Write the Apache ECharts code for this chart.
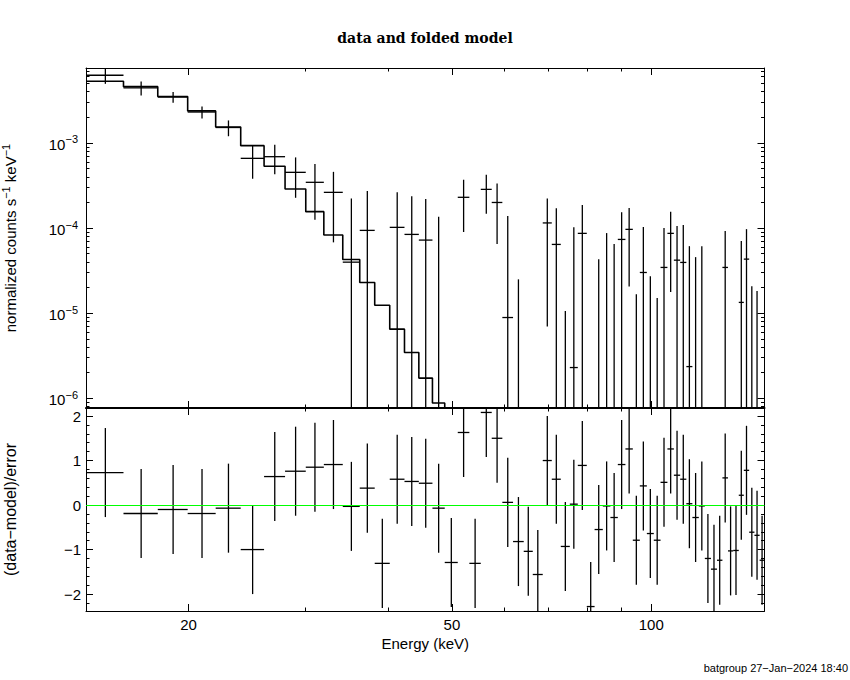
<!DOCTYPE html>
<html>
<head>
<meta charset="utf-8">
<script src="https://cdn.jsdelivr.net/npm/echarts@6/dist/echarts.min.js"></script>
<style>
html, body { margin: 0; background: #fff; }
#main { width: 850px; height: 680px; }
</style>
</head>
<body>
<div id="main"></div>
<script>
// energy bin edges (keV), 59 bins
var edges = [14.0, 15.95, 17.97, 19.94, 21.98, 23.98, 26.01, 27.98, 30.07, 32.02,
  34.2, 36.28, 38.22, 40.27, 42.39, 44.56, 46.72, 48.76, 51.02, 53.12,
  55.27, 57.42, 59.58, 61.84, 64.18, 66.23, 68.57, 70.76, 73.01, 75.34,
  77.46, 79.92, 82.12, 84.5, 86.77, 89.03, 91.42, 93.8, 96.11, 98.49,
  100.9, 103.3, 105.8, 108.2, 110.6, 113.0, 115.4, 118.0, 120.5, 123.1,
  125.7, 128.1, 130.6, 133.0, 135.6, 138.0, 140.6, 143.2, 145.8, 148.3];

// normalized counts s^-1 keV^-1 and 1-sigma errors
var rate = [6.25e-3, 4.43e-3, 3.46e-3, 2.31e-3, 1.52e-3, 6.6e-4, 6.9e-4, 4.52e-4, 3.45e-4, 2.63e-4,
  3.98e-5, 9.4e-5, -2.1e-4, 1.02e-4, 8.43e-5, 7.23e-5, -9e-6, -1.87e-4, 2.30e-4, -1.83e-4,
  2.85e-4, 2.0e-4, 8.9e-6, -1.11e-4, -1.35e-4, -1.79e-4, 1.15e-4, 6.43e-5, -9.94e-5, 2.3e-6,
  8.67e-5, -2.28e-4, -5.3e-5, -1.6e-6, -2.5e-5, 7.36e-5, 9.66e-5, -6.33e-5, 3.01e-5, -4.88e-5,
  -5.69e-5, 3.45e-5, 8.67e-5, 4.2e-5, 3.95e-5, 2.36e-6, -1.74e-5, -1.6e-6, -7.2e-5, -8.64e-5,
  -7.44e-5, 3.45e-5, -5.97e-5, -5.81e-5, 1.34e-5, 4.32e-5, -3.22e-5, -3.88e-5, -6.82e-5];
var rateErr = [1.3e-3, 8.3e-4, 5.0e-4, 3.7e-4, 3.2e-4, 2.8e-4, 2.6e-4, 2.25e-4, 2.2e-4, 1.95e-4,
  1.83e-4, 1.78e-4, 1.7e-4, 1.61e-4, 1.53e-4, 1.47e-4, 1.45e-4, 1.45e-4, 1.4e-4, 1.4e-4,
  1.38e-4, 1.35e-4, 1.3e-4, 1.36e-4, 1.3e-4, 1.15e-4, 1.08e-4, 1.07e-4, 1.1e-4, 1.0e-4,
  1.0e-4, 1.0e-4, 9.6e-5, 8.9e-5, 9.0e-5, 8.0e-5, 7.6e-5, 8.0e-5, 7.3e-5, 7.6e-5,
  7.2e-5, 6.55e-5, 6.9e-5, 6.4e-5, 6.9e-5, 5.9e-5, 6.3e-5, 6.3e-5, 6.0e-5, 6.0e-5,
  6.0e-5, 5.8e-5, 5.8e-5, 5.7e-5, 5.7e-5, 5.4e-5, 5.3e-5, 5.7e-5, 5.5e-5];

// folded model per bin (first 18 bins; the rest lies below the plot)
var model = [5.32e-3, 4.59e-3, 3.51e-3, 2.38e-3, 1.54e-3, 9.3e-4, 5.32e-4, 2.88e-4, 1.56e-4, 8.28e-5,
  4.28e-5, 2.30e-5, 1.24e-5, 6.5e-6, 3.45e-6, 1.73e-6, 8.8e-7, 4.3e-7];

// (data-model)/error
var resid = [0.73, -0.19, -0.10, -0.19, -0.07, -1.0, 0.64, 0.76, 0.85, 0.91,
  -0.03, 0.38, -1.31, 0.58, 0.53, 0.49, -0.07, -1.29, 1.63, -1.31,
  2.08, 1.50, 0.06, -0.82, -1.04, -1.56, 1.0, 0.58, -0.93, 0.02,
  0.89, -2.28, -0.55, -0.02, -0.28, 0.91, 1.26, -0.79, 0.43, -0.64,
  -0.79, 0.51, 1.26, 0.67, 0.58, 0.03, -0.28, -0.02, -1.20, -1.44,
  -1.24, 0.61, -1.03, -1.02, 0.22, 0.78, -0.61, -0.68, -1.24];

// ticks
var xMajor = [20, 50, 100];
var xMinor = [30, 40, 60, 70, 80, 90];
var yMajor = [1e-6, 1e-5, 1e-4, 1e-3];
var yMinor = [8e-7, 9e-7,
  2e-6, 3e-6, 4e-6, 5e-6, 6e-6, 7e-6, 8e-6, 9e-6,
  2e-5, 3e-5, 4e-5, 5e-5, 6e-5, 7e-5, 8e-5, 9e-5,
  2e-4, 3e-4, 4e-4, 5e-4, 6e-4, 7e-4, 8e-4, 9e-4,
  2e-3, 3e-3, 4e-3, 5e-3, 6e-3, 7e-3];
var rMajor = [-2, -1, 0, 1, 2];
var rMinor = [-2.2, -1.8, -1.6, -1.4, -1.2, -0.8, -0.6, -0.4, -0.2,
  0.2, 0.4, 0.6, 0.8, 1.2, 1.4, 1.6, 1.8, 2.2];

var xMin = 14, xMax = 148.3;
var yMin = 7.7e-7, yMax = 7.6e-3;
var rMin = -2.38, rMax = 2.18;

var ink = '#000';
var font = 'Liberation Sans';

// four axes per side pair: labelled major + minor, mirrored on the opposite side
function axisSet(dim, grid, type, min, max, major, minor, label, lineW) {
  var pos = dim === 'x' ? ['bottom', 'top'] : ['left', 'right'];
  var out = [];
  pos.forEach(function (p, k) {
    var main = {
      gridIndex: grid, type: type, min: min, max: max, position: p,
      axisLine: { show: true, onZero: false, lineStyle: { color: ink, width: k === 0 ? lineW : 1 } },
      axisTick: { show: true, inside: true, length: 7, customValues: major, lineStyle: { color: ink } },
      axisLabel: { show: false },
      splitLine: { show: false }
    };
    if (k === 0 && label) {
      main.axisLabel = Object.assign({ show: true, customValues: major, color: ink, fontFamily: font, fontSize: 15 }, label);
    }
    out.push(main);
    out.push({
      gridIndex: grid, type: type, min: min, max: max, position: p,
      axisLine: { show: false, onZero: false },
      axisTick: { show: true, inside: true, length: 3.5, customValues: minor, lineStyle: { color: ink } },
      axisLabel: { show: false },
      splitLine: { show: false }
    });
  });
  return out;
}

var xAxes = axisSet('x', 0, 'log', xMin, xMax, xMajor, xMinor, null, 2)
  .concat(axisSet('x', 1, 'log', xMin, xMax, xMajor, xMinor, {
    margin: 6,
    formatter: function (v) { return String(Math.round(v)); }
  }, 1));
xAxes[4].name = 'Energy (keV)';
xAxes[4].nameLocation = 'middle';
xAxes[4].nameGap = 25;
xAxes[4].nameTextStyle = { color: ink, fontFamily: font, fontSize: 15 };

var yAxes = axisSet('y', 0, 'log', yMin, yMax, yMajor, yMinor, {
    margin: 8,
    formatter: function (v) {
      var p = Math.round(Math.log10(v));
      return '{b|10}{s|\u2212' + (-p) + '}';
    },
    rich: {
      b: { fontFamily: font, fontSize: 15, lineHeight: 18, verticalAlign: 'bottom', color: ink },
      s: { fontFamily: font, fontSize: 11, lineHeight: 11, verticalAlign: 'top', color: ink }
    }
  }, 1)
  .concat(axisSet('y', 1, 'value', rMin, rMax, rMajor, rMinor, {
    margin: 5,
    formatter: function (v) { return v < 0 ? '\u2212' + (-v) : String(v); }
  }, 1));
yAxes[0].name = '{a|normalized counts s}{s|\u22121}{a| keV}{s|\u22121}';
yAxes[0].nameLocation = 'middle';
yAxes[0].nameGap = 68;
yAxes[0].nameTextStyle = {
  rich: {
    a: { fontFamily: font, fontSize: 15, lineHeight: 18, verticalAlign: 'bottom', color: ink },
    s: { fontFamily: font, fontSize: 11, lineHeight: 11, verticalAlign: 'top', color: ink }
  }
};
yAxes[4].name = '(data\u2212model)/error';
yAxes[4].nameLocation = 'middle';
yAxes[4].nameGap = 68;
yAxes[4].nameTextStyle = { color: ink, fontFamily: font, fontSize: 16 };

// rows for the error-bar crosses: [centre, value, error, lowEdge, highEdge]
var specRows = [], resRows = [];
for (var i = 0; i < rate.length; i++) {
  var c = (edges[i] + edges[i + 1]) / 2;
  specRows.push([c, rate[i], rateErr[i], edges[i], edges[i + 1]]);
  resRows.push([c, resid[i], 1, edges[i], edges[i + 1]]);
}

// model as a histogram
var modelSteps = [];
for (var j = 0; j < model.length; j++) {
  modelSteps.push([edges[j], model[j]]);
  modelSteps.push([edges[j + 1], model[j]]);
}

function crossItem(lo, hi) {
  return function (params, api) {
    var xc = api.value(0), y = api.value(1), e = api.value(2);
    var x0 = api.value(3), x1 = api.value(4);
    var kids = [];
    var top = Math.min(y + e, hi), bot = Math.max(y - e, lo);
    var st = { stroke: ink, lineWidth: 1.3 };
    if (top > lo && bot < hi) {
      var p1 = api.coord([xc, top]), p2 = api.coord([xc, bot]);
      kids.push({ type: 'line', shape: { x1: p1[0], y1: p1[1], x2: p2[0], y2: p2[1] }, style: st });
    }
    if (y > lo && y < hi) {
      var a = api.coord([x0, y]), b = api.coord([x1, y]);
      kids.push({ type: 'line', shape: { x1: a[0], y1: a[1], x2: b[0], y2: b[1] }, style: st });
    }
    return { type: 'group', children: kids };
  };
}

var chart = echarts.init(document.getElementById('main'), null, { renderer: 'svg' });
chart.setOption({
  animation: false,
  backgroundColor: '#fff',
  title: [
    { text: 'data and folded model', left: 'center', top: 26,
      textStyle: { fontFamily: 'DejaVu Serif', fontSize: 14, fontWeight: 'bold', color: ink } },
    { text: 'batgroup 27\u2212Jan\u22122024 18:40', right: -3, top: 657,
      textStyle: { fontFamily: font, fontSize: 11, fontWeight: 'normal', color: ink } }
  ],
  grid: [
    { left: 86, top: 68, width: 678.5, height: 340, outerBoundsMode: 'none' },
    { left: 86, top: 408, width: 678.5, height: 203, outerBoundsMode: 'none' }
  ],
  xAxis: xAxes,
  yAxis: yAxes,
  series: [
    {
      type: 'line', xAxisIndex: 0, yAxisIndex: 0, data: modelSteps,
      symbol: 'none', clip: true, lineStyle: { color: ink, width: 1.6 }, z: 2
    },
    {
      type: 'custom', xAxisIndex: 0, yAxisIndex: 0, data: specRows,
      renderItem: crossItem(yMin, yMax), z: 3
    },
    {
      type: 'custom', xAxisIndex: 4, yAxisIndex: 4, data: resRows,
      renderItem: crossItem(rMin, rMax), z: 3,
      markLine: {
        silent: true, symbol: 'none', label: { show: false },
        lineStyle: { color: '#00ff00', width: 1, type: 'solid' },
        data: [{ yAxis: 0 }]
      }
    }
  ]
});
</script>
</body>
</html>
